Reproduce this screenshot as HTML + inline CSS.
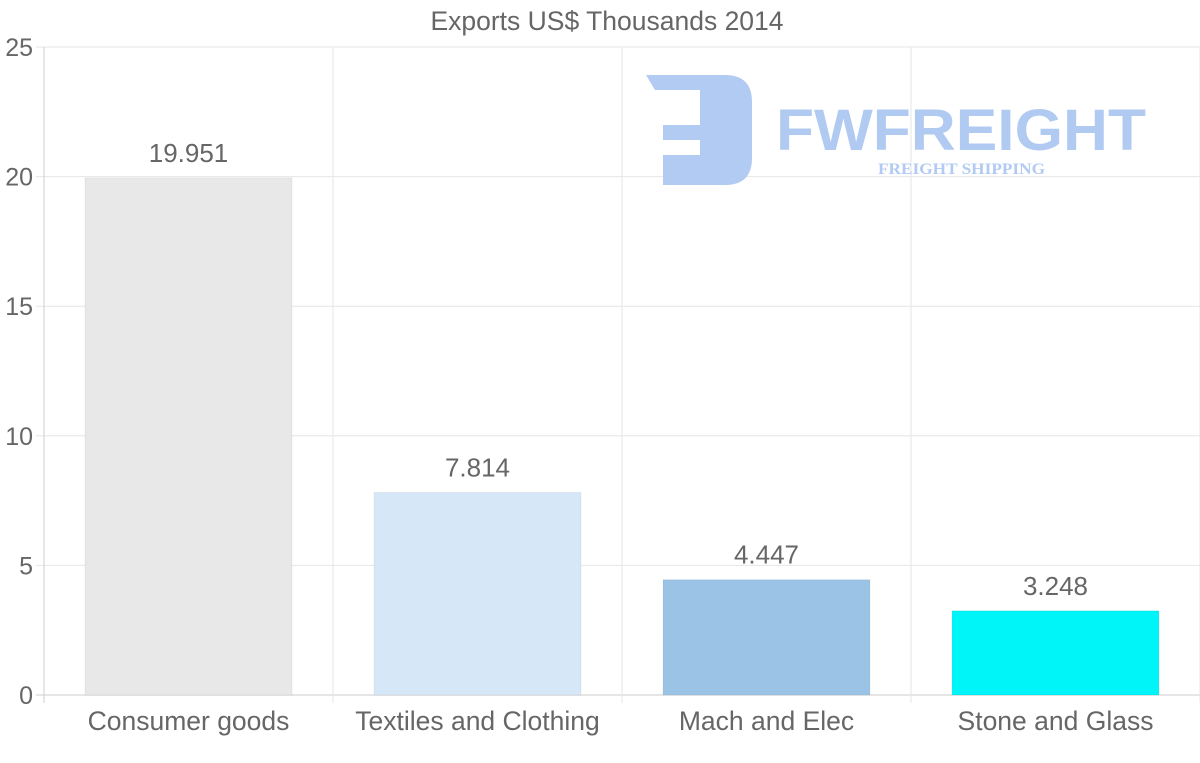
<!DOCTYPE html>
<html><head><meta charset="utf-8"><style>
body{margin:0;background:#fff;width:1200px;height:763px;overflow:hidden}
svg{display:block;font-family:"Liberation Sans",sans-serif}
</style></head><body>
<svg id="chart" width="1200" height="763">
<text x="607" y="30" text-anchor="middle" font-size="26.5" fill="#666">Exports US$ Thousands 2014</text>
<g id="grid"></g>
<g fill="#adc8f2" opacity="0.95">
<path d="M646 75 H725 Q752 75 752 102 V158 Q752 185 725 185 H663 V155 H700 V140 H663 V125 H700 V90 H655 Z"/>
<text x="776" y="150" font-size="58" font-weight="bold" textLength="370" lengthAdjust="spacingAndGlyphs">FWFREIGHT</text>
<text x="878" y="174" font-size="16" font-weight="bold" font-family="Liberation Serif,serif" textLength="167" lengthAdjust="spacingAndGlyphs">FREIGHT SHIPPING</text>
</g>
<g id="bars"></g>
</svg>
<script>
const categories=["Consumer goods","Textiles and Clothing","Mach and Elec","Stone and Glass"];
const values=[19.951,7.814,4.447,3.248];
const labels=["19.951","7.814","4.447","3.248"];
const colors=["#e8e8e8","#d6e7f8","#9ac3e6","#00f5f8"];
const yTicks=[0,5,10,15,20,25];
const NS="http://www.w3.org/2000/svg";
const L=44,R=1200,T=47,B=695,yMax=25;
const y=v=>B-(v/yMax)*(B-T);
const bw=(R-L)/categories.length;
const x=i=>L+i*bw;
const grid=document.getElementById('grid'),bars=document.getElementById('bars');
function mk(tag,attrs,parent,txt){const e=document.createElementNS(NS,tag);for(const k in attrs)e.setAttribute(k,attrs[k]);if(txt!=null)e.textContent=txt;parent.appendChild(e);return e;}
yTicks.forEach(t=>{
 const l=mk('line',{x1:L-8,x2:R,y1:y(t),y2:y(t),stroke:t===0?'#ccc':'#e6e6e6'},grid);
 
 
 const tx=mk('text',{x:33,y:y(t)+9,'text-anchor':'end','font-size':25,fill:'#666'},grid,String(t));
 
 
});
for(let i=0;i<=categories.length;i++){
 const l=mk('line',{x1:x(i),x2:x(i),y1:T,y2:B+8,stroke:i===0?'#ccc':'#e6e6e6'},grid);
 
 
}
categories.forEach((c,i)=>{
 const x0=x(i)+bw*0.142,w=bw*0.716;
 const r=mk('rect',{x:x0,y:y(values[i]),width:w,height:B-y(values[i]),fill:colors[i],stroke:'rgba(0,0,0,0.05)'},bars);
 
 
 const v=mk('text',{x:x(i)+bw/2,y:y(values[i])-16,'text-anchor':'middle','font-size':26,fill:'#666'},bars,labels[i]);
 
 
 const cl=mk('text',{x:x(i)+bw/2,y:730,'text-anchor':'middle','font-size':26.5,fill:'#666'},bars,c);
 
 
});
</script>
</body></html>
